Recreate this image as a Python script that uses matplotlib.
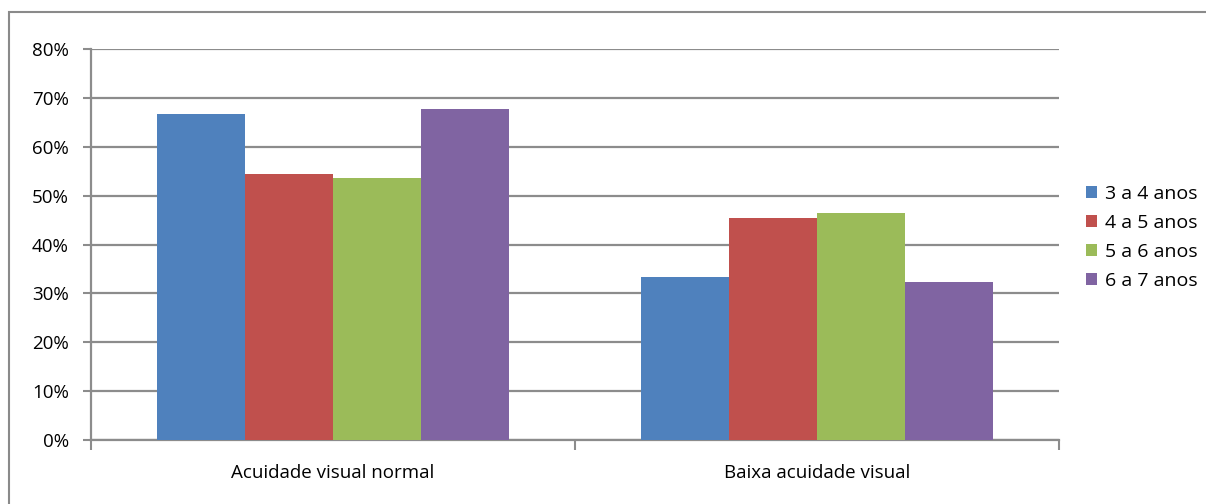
import numpy as np
import matplotlib.pyplot as plt
from matplotlib.patches import Rectangle
from matplotlib.ticker import PercentFormatter

plt.rcParams['font.family'] = ['Open Sans', 'DejaVu Sans']

categorias = ['Acuidade visual normal', 'Baixa acuidade visual']
faixas = ['3 a 4 anos', '4 a 5 anos', '5 a 6 anos', '6 a 7 anos']
valores = {
    '3 a 4 anos': [66.7, 33.3],
    '4 a 5 anos': [54.5, 45.5],
    '5 a 6 anos': [53.6, 46.4],
    '6 a 7 anos': [67.7, 32.3],
}
cores = ['#4F81BD', '#C0504D', '#9BBB59', '#8064A2']
grid_cor = '#8C8C8C'

fig = plt.figure(figsize=(12.06, 5.04), dpi=100)
ax = fig.add_axes([91 / 1206, 64 / 504, 968 / 1206, 391 / 504])

# moldura do grafico (so esquerda e topo aparecem)
fig.patches.append(Rectangle((9 / 1206, -0.1), 1.2, (504 - 12) / 504 + 0.1,
                             transform=fig.transFigure, fill=False,
                             edgecolor='#8A8A8A', linewidth=1.5))

x = np.arange(len(categorias))
w = 88 / 484
for i, (faixa, cor) in enumerate(zip(faixas, cores)):
    ax.bar(x + (i - 1.5) * w, valores[faixa], width=w, color=cor,
           label=faixa, zorder=3)

ax.set_xlim(-0.5, 1.5)
ax.set_ylim(0, 80)
ax.set_yticks(np.arange(0, 81, 10))
ax.yaxis.set_major_formatter(PercentFormatter(decimals=0))
ax.grid(axis='y', color=grid_cor, linewidth=1.6, zorder=0)

ax.set_xticks(x)
ax.set_xticklabels(categorias, fontsize=13.5)
ax.set_xticks([-0.5, 0.5, 1.5], minor=True)
ax.tick_params(axis='x', which='major', length=0, pad=17)
ax.tick_params(axis='x', which='minor', length=7, width=1.5, color=grid_cor)
ax.tick_params(axis='y', length=6, width=1.5, color=grid_cor, labelsize=13.5,
               pad=10)

for side in ['top', 'right']:
    ax.spines[side].set_visible(False)
for side in ['left', 'bottom']:
    ax.spines[side].set_color(grid_cor)
    ax.spines[side].set_linewidth(1.6)

ax.legend(loc='center left', bbox_to_anchor=(1.028, 0.518), frameon=False,
          borderaxespad=0, borderpad=0, fontsize=14, handlelength=0.55,
          handleheight=0.55, handletextpad=0.4, labelspacing=0.57)

fig.savefig('out.png', dpi=100)
